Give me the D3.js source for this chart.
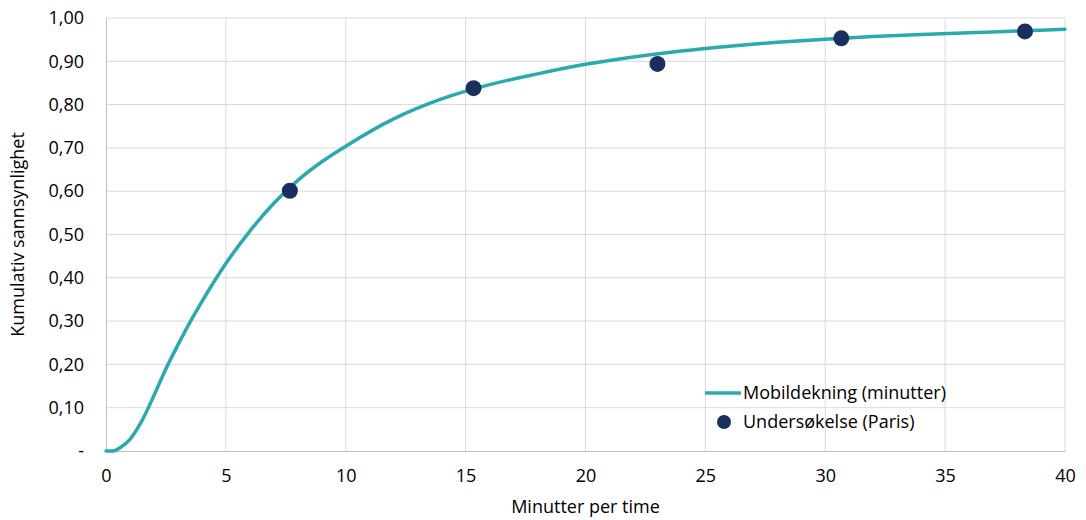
<!DOCTYPE html>
<html>
<head>
<meta charset="utf-8">
<script src="https://cdn.jsdelivr.net/npm/d3@7"></script>
<style>
  body { margin: 0; background: #fff; }
  text { font-family: "Open Sans", Lato, sans-serif; fill: #000; }
</style>
</head>
<body>
<script>
var svgWidth = 1086;
var svgHeight = 520;

var Margin = { top: 18, right: 21, bottom: 69, left: 106 };
var Width = svgWidth - Margin.left - Margin.right;
var Height = svgHeight - Margin.top - Margin.bottom;

// curve: Mobildekning (minutter)
var curveX = [0, 0.3, 0.6, 1, 1.5, 2, 2.5, 3, 3.5, 4, 5, 6, 7, 8, 9, 10, 12, 14, 16, 18, 20, 22, 24, 26, 28, 30, 32, 34, 36, 38, 40];
var curveY = [0, 0, 0.008, 0.027, 0.07, 0.128, 0.19, 0.245, 0.297, 0.345, 0.433, 0.508, 0.572, 0.625, 0.668, 0.704, 0.767, 0.813, 0.846, 0.871, 0.893, 0.910, 0.924, 0.935, 0.944, 0.951, 0.957, 0.962, 0.966, 0.970, 0.974];

// points: Undersøkelse (Paris)
var surveyX = [7.67, 15.33, 23.0, 30.67, 38.33];
var surveyY = [0.601, 0.838, 0.894, 0.953, 0.969];

var xTicks = [0, 5, 10, 15, 20, 25, 30, 35, 40];
var yTicks = [0, 0.1, 0.2, 0.3, 0.4, 0.5, 0.6, 0.7, 0.8, 0.9, 1.0];

var lineColor = "#2aa9b0";
var dotColor = "#1b2f5e";
var fontSize = "18px";

var svg = d3.select("body")
  .append("svg")
  .attr("width", svgWidth)
  .attr("height", svgHeight);

var chartGroup = svg.append("g")
  .attr("transform", `translate(${Margin.left}, ${Margin.top})`);

var xScale = d3.scaleLinear().domain([0, 40]).range([0, Width]);
var yScale = d3.scaleLinear().domain([0, 1]).range([Height, 0]);

// gridlines
chartGroup.selectAll(".hgrid")
  .data(yTicks.slice(1))
  .enter()
  .append("line")
  .attr("x1", 0).attr("x2", Width)
  .attr("y1", d => yScale(d)).attr("y2", d => yScale(d))
  .attr("stroke", "#d9d9d9").attr("stroke-width", 1);

chartGroup.selectAll(".vgrid")
  .data(xTicks.slice(1))
  .enter()
  .append("line")
  .attr("y1", 0).attr("y2", Height)
  .attr("x1", d => xScale(d)).attr("x2", d => xScale(d))
  .attr("stroke", "#d9d9d9").attr("stroke-width", 1);

var fmt = function(d) {
  if (d === 0) return "-";
  return d3.format(".2f")(d).replace(".", ",");
};

var leftAxis = d3.axisLeft(yScale).tickValues(yTicks).tickFormat(fmt).tickSize(0).tickPadding(22);
var bottomAxis = d3.axisBottom(xScale).tickValues(xTicks).tickSize(0).tickPadding(18);

var gy = chartGroup.append("g").call(leftAxis);
gy.select(".domain").attr("stroke", "#bfbfbf");
gy.selectAll("text").style("font-size", fontSize).attr("font-family", null);

var gx = chartGroup.append("g")
  .attr("transform", `translate(0, ${Height})`)
  .call(bottomAxis);
gx.select(".domain").attr("stroke", "#bfbfbf");
gx.selectAll("text").style("font-size", fontSize).attr("font-family", null);

// axis titles
svg.append("text")
  .attr("x", Margin.left + Width / 2)
  .attr("y", 513)
  .style("text-anchor", "middle")
  .style("font-size", fontSize)
  .text("Minutter per time");

svg.append("text")
  .attr("transform", "rotate(-90)")
  .attr("x", -(Margin.top + Height / 2))
  .attr("y", 24)
  .style("text-anchor", "middle")
  .style("font-size", fontSize)
  .text("Kumulativ sannsynlighet");

// curve
var curveData = curveX.map((x, i) => ({ x: x, y: curveY[i] }));
var line = d3.line()
  .x(d => xScale(d.x))
  .y(d => yScale(d.y))
  .curve(d3.curveMonotoneX);

chartGroup.append("path")
  .datum(curveData)
  .attr("d", line)
  .attr("fill", "none")
  .attr("stroke", lineColor)
  .attr("stroke-width", 3.5)
  .attr("stroke-linecap", "round");

// survey points
var surveyData = surveyX.map((x, i) => ({ x: x, y: surveyY[i] }));
chartGroup.selectAll(".dot")
  .data(surveyData)
  .enter()
  .append("circle")
  .attr("cx", d => xScale(d.x))
  .attr("cy", d => yScale(d.y))
  .attr("r", 8)
  .attr("fill", dotColor);

// legend
var legend = svg.append("g");
legend.append("line")
  .attr("x1", 705).attr("x2", 741)
  .attr("y1", 393).attr("y2", 393)
  .attr("stroke", lineColor).attr("stroke-width", 3.5);
legend.append("text")
  .attr("x", 743).attr("y", 399)
  .style("font-size", fontSize)
  .text("Mobildekning (minutter)");
legend.append("circle")
  .attr("cx", 724).attr("cy", 422).attr("r", 7)
  .attr("fill", dotColor);
legend.append("text")
  .attr("x", 743).attr("y", 428)
  .style("font-size", fontSize)
  .text("Undersøkelse (Paris)");
</script>
</body>
</html>
